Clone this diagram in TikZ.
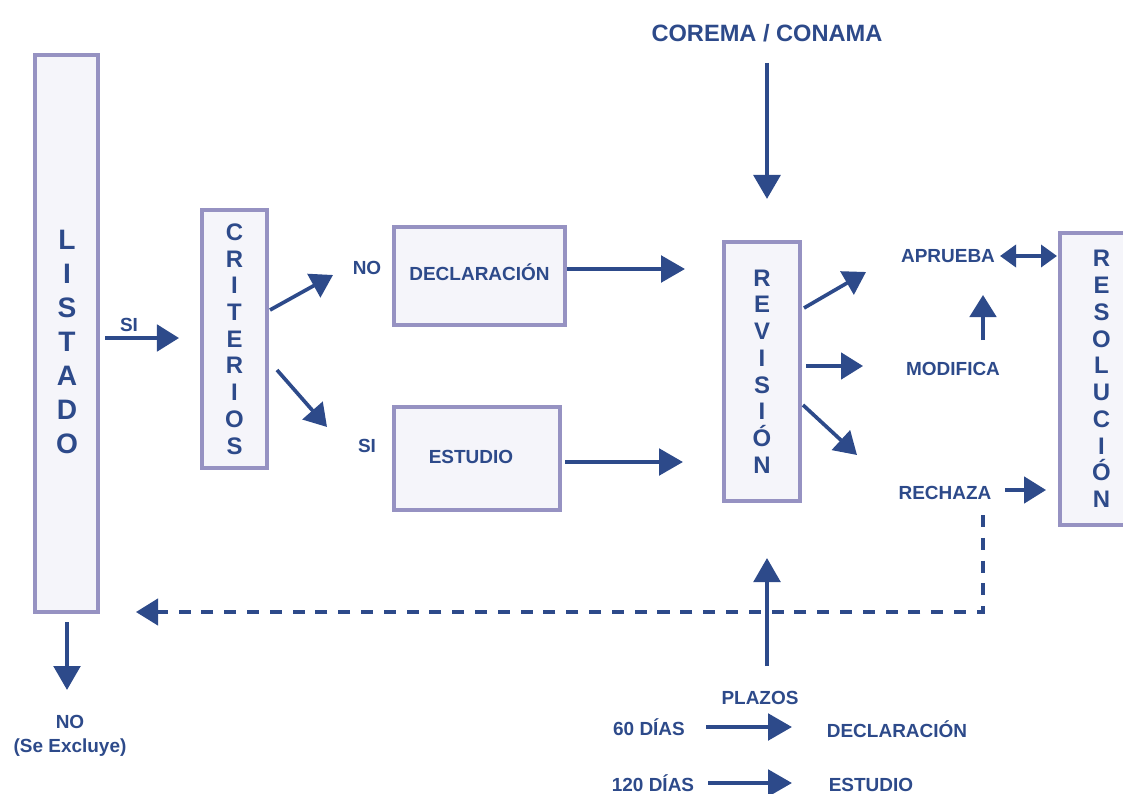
\documentclass[tikz,border=0pt]{standalone}
\usepackage{fontspec}
\setmainfont{Liberation Sans}
\usetikzlibrary{arrows.meta}

\definecolor{azul}{HTML}{2D4A8A}
\definecolor{marco}{HTML}{9692C2}
\definecolor{relleno}{HTML}{F5F5FA}

\tikzset{
  caja/.style={draw=marco, fill=relleno, line width=2.5pt, inner sep=0pt, text=azul,
    align=center, font=\bfseries\fontsize{13.5}{16}\selectfont},
  vertical/.style={caja, font=\bfseries\fontsize{17}{19}\selectfont},
  etiq/.style={text=azul, inner sep=0pt, align=center, font=\bfseries\fontsize{13.5}{16}\selectfont},
  flecha/.style={draw=azul, line width=3pt, -{Triangle[length=0.6cm,width=0.66cm]}},
  flechita/.style={draw=azul, line width=2.6pt, -{Triangle[length=0.55cm,width=0.66cm]}},
}

\begin{document}
\begin{tikzpicture}[x=0.025cm, y=-0.025cm]
\useasboundingbox (0,0) rectangle (1123,794);

% cajas
\node[caja, minimum width=1.575cm, minimum height=13.925cm] (listado) at (66.5,333.5) {};
\node[etiq, font=\bfseries\fontsize{20}{24.2}\selectfont] (listadotxt) at (67,342)
  {L\\I\\S\\T\\A\\D\\O};
\node[vertical, minimum width=1.625cm, minimum height=6.45cm] (criterios) at (234.5,339)
  {C\\R\\I\\T\\E\\R\\I\\O\\S};
\node[caja, minimum width=4.275cm, minimum height=2.45cm] (decl) at (479.5,276)
  {\raisebox{0.2cm}{DECLARACIÓN}};
\node[caja, minimum width=4.15cm, minimum height=2.575cm] (estudio) at (477,458.5)
  {\raisebox{0.1cm}{ESTUDIO\hspace{0.3cm}}};
\node[vertical, minimum width=1.9cm, minimum height=6.475cm] (revision) at (762,371.5)
  {R\\E\\V\\I\\S\\I\\Ó\\N};
\node[vertical, minimum width=2.075cm, minimum height=7.3cm] (resolucion) at (1101.5,379)
  {R\\E\\S\\O\\L\\U\\C\\I\\Ó\\N};

% textos
\node[etiq, font=\bfseries\fontsize{16.8}{19}\selectfont] (corema) at (767,33) {COREMA / CONAMA};
\node[etiq] (si1) at (129,325) {SI};
\node[etiq] (no1) at (367,268) {NO};
\node[etiq] (si2) at (367,446) {SI};
\node[etiq] (aprueba) at (948,256) {APRUEBA};
\node[etiq] (modifica) at (953,369) {MODIFICA};
\node[etiq] (rechaza) at (945,493) {RECHAZA};
\node[etiq] (no2) at (70,722) {NO};
\node[etiq] (excluye) at (70,748) {(Se Excluye)};
\node[etiq] (plazos) at (760,698) {PLAZOS};
\node[etiq] (d60) at (649,727) {60 DÍAS};
\node[etiq] (pdecl) at (897,729) {DECLARACIÓN};
\node[etiq] (d120) at (653,783) {120 DÍAS};
\node[etiq] (pest) at (871,785) {ESTUDIO};

% extremos de flechas
\coordinate (a1) at (105,338);   \coordinate (a2) at (179,338);
\coordinate (b1) at (270,310);   \coordinate (b2) at (333,275);
\coordinate (c1) at (277,370);   \coordinate (c2) at (327,427);
\coordinate (d1) at (567,269);   \coordinate (d2) at (685,269);
\coordinate (e1) at (565,462);   \coordinate (e2) at (683,462);
\coordinate (f1) at (767,63);    \coordinate (f2) at (767,199);
\coordinate (g1) at (767,666);   \coordinate (g2) at (767,558);
\coordinate (h1) at (804,308);   \coordinate (h2) at (866,272);
\coordinate (i1) at (806,366);   \coordinate (i2) at (863,366);
\coordinate (j1) at (803,405);   \coordinate (j2) at (857,455);
\coordinate (k1) at (1000,256);  \coordinate (k2) at (1057,256);
\coordinate (m1) at (983,340);   \coordinate (m2) at (983,295);
\coordinate (n1) at (1005,490);  \coordinate (n2) at (1046,490);
\coordinate (p1) at (983,515);   \coordinate (p2) at (983,612);
\coordinate (p3) at (136,612);
\coordinate (q1) at (67,622);    \coordinate (q2) at (67,690);
\coordinate (r1) at (706,727);   \coordinate (r2) at (792,727);
\coordinate (s1) at (708,783);   \coordinate (s2) at (792,783);

% flechas
\draw[flechita] (a1) -- (a2);
\draw[flechita] (b1) -- (b2);
\draw[flechita] (c1) -- (c2);
\draw[flecha] (d1) -- (d2);
\draw[flecha] (e1) -- (e2);
\draw[flecha, line width=3.4pt] (f1) -- (f2);
\draw[flecha] (g1) -- (g2);
\draw[flechita] (h1) -- (h2);
\draw[flechita] (i1) -- (i2);
\draw[flechita] (j1) -- (j2);
\draw[draw=azul, line width=2.6pt, {Triangle[length=0.4cm,width=0.55cm]}-{Triangle[length=0.4cm,width=0.55cm]}] (k1) -- (k2);
\draw[flechita] (m1) -- (m2);
\draw[flechita] (n1) -- (n2);
\draw[flechita, line width=2.2pt, dash pattern=on 0.3cm off 0.27cm] (p1) -- (p2) -- (p3);
\draw[flecha] (q1) -- (q2);
\draw[flecha] (r1) -- (r2);
\draw[flecha] (s1) -- (s2);
\end{tikzpicture}
\end{document}
